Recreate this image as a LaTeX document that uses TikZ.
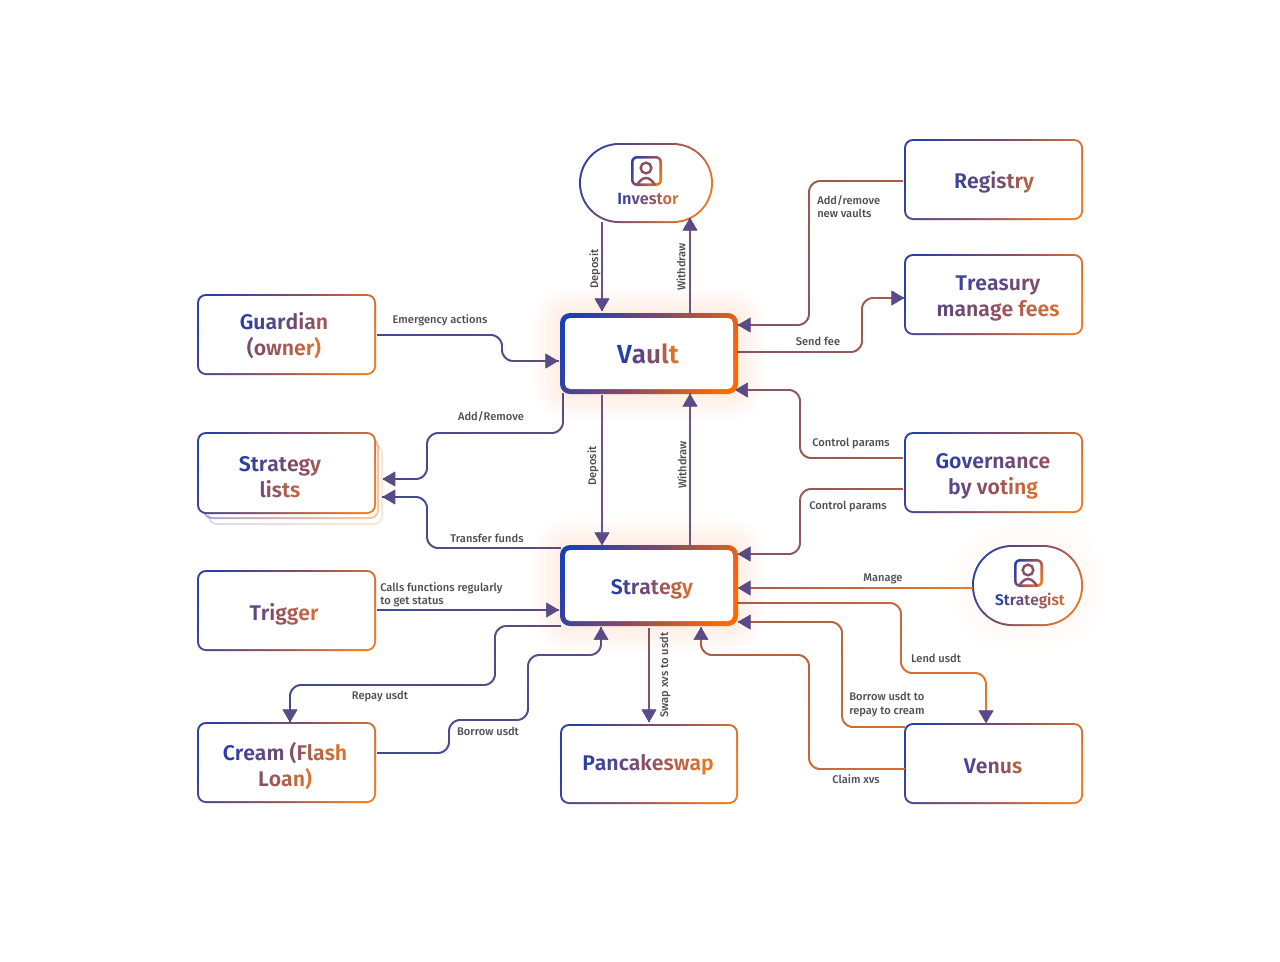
\documentclass[tikz,border=0pt]{standalone}
\usepackage{fontspec}
\setmainfont{Fira Sans Medium}
\newfontfamily\ttlfont{Fira Sans SemiBold}
\usetikzlibrary{decorations.markings,calc}
\definecolor{gblue}{HTML}{2B3FA6}
\definecolor{gmid}{HTML}{8A4F63}
\definecolor{gorg}{HTML}{F07A20}
\definecolor{tblue}{HTML}{1C3FB8}
\definecolor{tmid}{HTML}{8A4A60}
\definecolor{torg}{HTML}{FF6A00}
\definecolor{lnA}{HTML}{3F4A92}
\definecolor{lnB}{HTML}{5F4A80}
\definecolor{lnV}{HTML}{6E5484}
\definecolor{lnC}{HTML}{85516A}
\definecolor{lnD}{HTML}{A65C46}
\definecolor{lnE}{HTML}{D56E2E}
\definecolor{lnF}{HTML}{E9782A}
\definecolor{headc}{HTML}{5A4A86}
\definecolor{labc}{HTML}{4C4C54}
\definecolor{glowc}{HTML}{F59A62}
\pgfdeclarehorizontalshading{brand}{100bp}{color(0bp)=(gblue); color(22bp)=(gblue); color(50bp)=(gmid); color(78bp)=(gorg); color(100bp)=(gorg)}
\pgfdeclarehorizontalshading{brandT}{100bp}{color(0bp)=(tblue); color(22bp)=(tblue); color(50bp)=(tmid); color(78bp)=(torg); color(100bp)=(torg)}
\ExplSyntaxOn
\int_new:N \l_gt_i_int
\int_new:N \l_gt_n_int
\tl_new:N \l_gt_c_tl
\cs_new_protected:Npn \gt_char:nn #1 #2
  {
    \str_if_eq:nnTF {#2} {~}
      { \space }
      {
        \int_compare:nNnTF {#1} < {50}
          { \tl_set:Nx \l_gt_c_tl { gmid!\int_eval:n {2*(#1)}!gblue } }
          { \tl_set:Nx \l_gt_c_tl { gorg!\int_eval:n {2*(#1)-100}!gmid } }
        \textcolor{\l_gt_c_tl}{#2}
      }
  }
\NewDocumentCommand \GT {mmm}
  {
    \int_zero:N \l_gt_i_int
    \int_set:Nn \l_gt_n_int { \str_count:n {#3} }
    \str_map_inline:nn {#3}
      {
        \gt_char:nn { #1 + (#2-#1)*\l_gt_i_int/\int_max:nn{1}{\l_gt_n_int-1} } {##1}
        \int_incr:N \l_gt_i_int
      }
  }
\ExplSyntaxOff
% name, x1,y1,x2,y2, radius px, line width px, shading
\newcommand\gbox[8]{%
  \pgfmathsetmacro\gw{(#4-#2)*.75}\pgfmathsetmacro\gh{(#5-#3)*.75}%
  \pgfmathsetmacro\gr{#6*.75}\pgfmathsetmacro\gl{#7*.75}%
  \pgfmathsetmacro\gwi{\gw-2*\gl}\pgfmathsetmacro\ghi{\gh-2*\gl}\pgfmathsetmacro\gri{\gr-\gl}%
  \node[shade,shading=#8,shading angle=-28,rectangle,inner sep=0pt,outer sep=0pt,rounded corners=\gr pt,minimum width=\gw pt,minimum height=\gh pt] (#1) at ({(#2+#4)/2},{(#3+#5)/2}) {};
  \node[fill=white,rectangle,inner sep=0pt,outer sep=0pt,rounded corners=\gri pt,minimum width=\gwi pt,minimum height=\ghi pt] (#1in) at (#1) {};
}
\newcommand\glow[6]{% x1,y1,x2,y2,radius,opacity
  \foreach \k in {1,...,14}{
    \fill[glowc,opacity=#6,rounded corners=#5+\k*2.0*.75] ({#1-\k*2.0},{#2-\k*2.0}) rectangle ({#3+\k*2.0},{#4+\k*2.0});
  }
}
\tikzset{
  x=0.75pt,y=-0.75pt,
  gline/.style n args={2}{
    rounded corners=8.5pt,
    postaction={decorate,decoration={markings,
      mark=between positions 0 and 1 step 1.3pt with {
        \pgfmathsetmacro\gfrac{int(100*(\pgfkeysvalueof{/pgf/decoration/mark info/distance from start}/\pgfdecoratedpathlength))}
        \fill[sharp corners,color=#2!\gfrac!#1] (-0.75pt,-0.72pt) rectangle (0.75pt,0.72pt);
      }}},
    postaction={decorate,decoration={markings,
      mark=at position 0.9999 with {
        \fill[sharp corners,headc,draw=headc,line width=0.5pt,line join=round] (-0.2pt,0pt) -- (-9.2pt,-5.3pt) -- (-9.2pt,5.3pt) -- cycle;
      }}}
  },
  title/.style={inner sep=0pt,align=center,font=\ttlfont\fontsize{#1}{19.5}\selectfont},
  title/.default=15.9,
  lab/.style={inner sep=0pt,text=labc,align=left,font=\fontsize{8.35}{10.1}\selectfont},
}
\begin{document}
\begin{tikzpicture}
\useasboundingbox (0,0) rectangle (1280,961);
% glows
\glow{560}{314}{738}{394}{8}{0.011}
\glow{560}{545}{738}{626}{8}{0.011}
\glow{972}{545}{1083}{626}{30}{0.005}
% boxes
\gbox{investor}{579}{143}{713}{223}{40}{2}{brand}
\gbox{registry}{904}{139}{1083}{220}{9}{2}{brand}
\gbox{treasury}{904}{254}{1083}{335}{9}{2}{brand}
\gbox{governance}{904}{432}{1083}{513}{9}{2}{brand}
\gbox{strategist}{972}{545}{1083}{626}{40}{2}{brand}
\gbox{venus}{904}{723}{1083}{804}{9}{2}{brand}
\gbox{pancake}{560}{724}{738}{804}{9}{2}{brand}
\gbox{cream}{197}{722}{376}{803}{9}{2}{brand}
\gbox{trigger}{197}{570}{376}{651}{9}{2}{brand}
\gbox{guardian}{197}{294}{376}{375}{9}{2}{brand}
\begin{scope}[transparency group,opacity=.2]
\gbox{listsC}{208}{444}{383}{525}{9}{2}{brand}
\end{scope}
\begin{scope}[transparency group,opacity=.45]
\gbox{listsB}{203}{438}{379}{519}{9}{2}{brand}
\end{scope}
\gbox{lists}{197}{432}{376}{514}{9}{2}{brand}
\gbox{vault}{560}{313}{738}{394}{10}{5}{brandT}
\gbox{strategy}{560}{545}{738}{626}{10}{5}{brandT}
% icons
\gbox{iconI}{631}{156}{662}{186}{6}{2.6}{brand}
\node[circle,draw=gmid,line width=1.8pt,minimum size=8pt,inner sep=0pt] (headI) at (646,168) {};
\draw[gmid,line width=1.8pt] (637,185) .. controls (640,180) and (643,178) .. (646,178) .. controls (649,178) and (652,180) .. (655,185);
\gbox{iconS}{1014}{559}{1043}{587}{6}{2.6}{brand}
\node[circle,draw=gmid,line width=1.8pt,minimum size=8pt,inner sep=0pt] (headS) at (1028,570) {};
\draw[gmid,line width=1.8pt] (1019,586) .. controls (1022,581) and (1025,579) .. (1028,579) .. controls (1031,579) and (1034,581) .. (1037,586);
% titles
\node[title=19.6] (vaultT) at (648,354) {\GT{0}{90}{Vault}};
\node[title=15.9] (strategyT) at (652,589) {\GT{0}{85}{Strategy}};
\node[title] (registryT) at (994,182) {\GT{10}{70}{Registry}};
\node[title] (treasuryT) at (998,298) {\GT{10}{45}{Treasury}\\\GT{30}{85}{manage fees}};
\node[title] (governanceT) at (993,476) {\GT{0}{50}{Governance}\\\GT{25}{85}{by voting}};
\node[title] (venusT) at (993,766) {\GT{15}{70}{Venus}};
\node[title] (pancakeT) at (648,765) {\GT{0}{95}{Pancakeswap}};
\node[title] (creamT) at (285,766) {\GT{0}{90}{Cream (Flash}\\\GT{50}{90}{Loan)}};
\node[title] (triggerT) at (284,614) {\GT{25}{85}{Trigger}};
\node[title] (listsT) at (280,477) {\GT{0}{60}{Strategy}\\\GT{40}{75}{lists}};
\node[title] (guardianT) at (284,336) {\GT{0}{60}{Guardian}\\\GT{40}{90}{(owner)}};
\node[title=12.2] (investorT) at (648,199) {\GT{0}{90}{Investor}};
\node[title=11.6] (strategistT) at (1030,601) {\GT{0}{85}{Strategist}};
% connectors
\path[gline={lnV}{lnV}] (602,0 |- investor.south) -- ([yshift=1.5pt]602,0 |- vault.north);
\path[gline={lnV}{lnV}] (690,0 |- vault.north) -- (690,218);
\path[gline={lnA}{lnB}] ([xshift=1.5pt]guardian.east |- 0,335) -- (502,335) -- (502,361) -- ([xshift=-1.5pt]vault.west |- 0,361);
\path[gline={lnD}{lnC}] ([xshift=-1.5pt]registry.west |- 0,181) -- (809,181) -- (809,325) -- (vault.east |- 0,325);
\path[gline={lnC}{lnD}] (vault.east |- 0,352) -- (862,352) -- (862,298) -- (treasury.west |- 0,298);
\path[gline={lnD}{lnC}] ([xshift=-1.5pt]governance.west |- 0,458) -- (800,458) -- (800,390) -- ([xshift=-2pt]vault.east |- 0,390);
\path[gline={lnD}{lnC}] ([xshift=-1.5pt]governance.west |- 0,489) -- (800,489) -- (800,554) -- (strategy.east |- 0,554);
\path[gline={lnF}{lnD}] (strategist.west |- 0,588) -- (strategy.east |- 0,588);
\path[gline={lnD}{lnF}] (strategy.east |- 0,603) -- (901,603) -- (901,673) -- (986,673) -- (986,0 |- venus.north);
\path[gline={lnE}{lnD}] (venus.west |- 0,727) -- (842,727) -- (842,622) -- (strategy.east |- 0,622);
\path[gline={lnE}{lnD}] (venus.west |- 0,769) -- (809,769) -- (809,655) -- (701,655) -- ([yshift=-1pt]701,0 |- strategy.south);
\path[gline={lnC}{lnC}] ([yshift=-2.5pt]649,0 |- strategy.south) -- ([yshift=1.5pt]649,0 |- pancake.north);
\path[gline={lnB}{lnA}] (563,0 |- vault.south) -- (563,433) -- (427,433) -- (427,479) -- ([xshift=5pt]lists.east |- 0,479);
\path[gline={lnB}{lnA}] (strategy.west |- 0,548) -- (427,548) -- (427,497) -- ([xshift=5pt]lists.east |- 0,497);
\path[gline={lnV}{lnV}] ([yshift=-1.5pt]602,0 |- vault.south) -- (602,0 |- strategy.north);
\path[gline={lnV}{lnV}] (690,0 |- strategy.north) -- (690,0 |- vault.south);
\path[gline={lnA}{lnB}] ([xshift=1.5pt]trigger.east |- 0,610) -- ([xshift=-1pt]strategy.west |- 0,610);
\path[gline={lnB}{lnA}] (strategy.west |- 0,626) -- (495,626) -- (495,685) -- (290,685) -- (290,0 |- cream.north);
\path[gline={lnA}{lnB}] ([xshift=1.5pt]cream.east |- 0,753) -- (449,753) -- (449,720) -- (528,720) -- (528,655) -- (601,655) -- ([yshift=-1pt]601,0 |- strategy.south);
% labels
\node[lab,rotate=90] (l1) at (595,269) {Deposit};
\node[lab,rotate=90] (l2) at (681,267) {Withdraw};
\node[lab] (l3) at (440,320) {Emergency actions};
\node[lab,anchor=west] (l4) at (817,206.5) {Add/remove\\new vaults};
\node[lab] (l5) at (818,341.5) {Send fee};
\node[lab] (l6) at (851,443) {Control params};
\node[lab] (l7) at (848,506) {Control params};
\node[lab] (l8) at (883,578.5) {Manage};
\node[lab] (l9) at (936,658.5) {Lend usdt};
\node[lab,anchor=west] (l10) at (849,704.5) {Borrow usdt to\\repay to cream};
\node[lab] (l11) at (856,779.5) {Claim xvs};
\node[lab,rotate=90] (l12) at (665,675) {Swap xvs to usdt};
\node[lab] (l13) at (491,417) {Add/Remove};
\node[lab] (l14) at (487,538.5) {Transfer funds};
\node[lab,rotate=90] (l15) at (593,466) {Deposit};
\node[lab,rotate=90] (l16) at (682,465) {Withdraw};
\node[lab,anchor=west] (l17) at (380,594.5) {Calls functions regularly\\to get status};
\node[lab] (l18) at (380,696) {Repay usdt};
\node[lab] (l19) at (488,731) {Borrow usdt};
\end{tikzpicture}
\end{document}
